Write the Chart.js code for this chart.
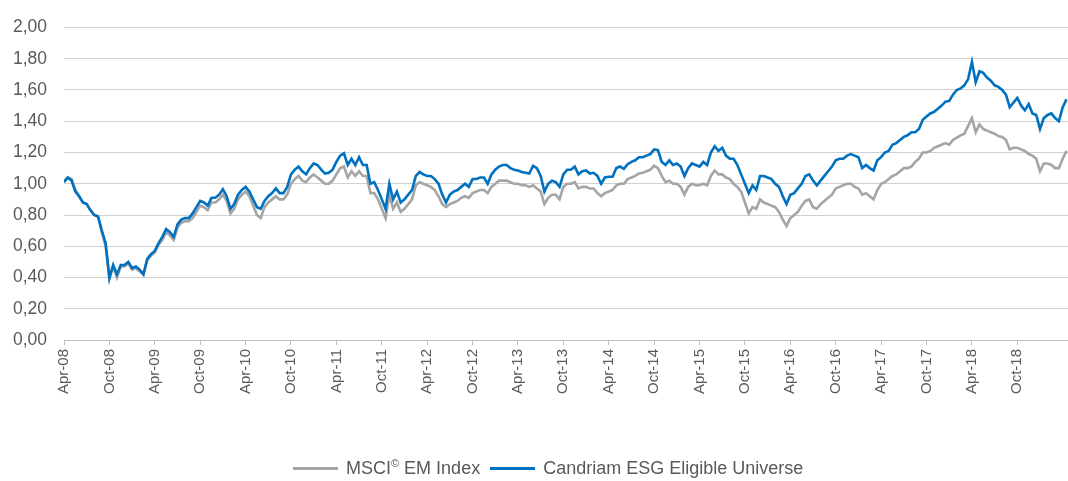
<!DOCTYPE html>
<html>
<head>
<meta charset="utf-8">
<script src="https://cdn.jsdelivr.net/npm/chart.js@4/dist/chart.umd.min.js"></script>
<style>
  html, body { margin: 0; padding: 0; background: #fff; }
  #wrap { position: relative; width: 1068px; height: 481px; }
  #legend {
    position: absolute; left: 293px; top: 457px;
    display: flex; align-items: center;
    font-family: "Liberation Sans", Arial, sans-serif; font-size: 18px; color: #595959;
  }
  .item { display: flex; align-items: center; margin-right: 10px; }
  .swatch { width: 45px; height: 3px; margin-right: 8px; }
  sup { font-size: 11px; }
</style>
</head>
<body>
<div id="wrap">
  <canvas id="perfChart" width="1068" height="481"></canvas>
  <div id="legend">
    <div class="item"><span class="swatch" style="background:#a5a5a5"></span><span>MSCI<sup>©</sup> EM Index</span></div>
    <div class="item"><span class="swatch" style="background:#0070c0"></span><span>Candriam ESG Eligible Universe</span></div>
  </div>
</div>
<script>
// x axis: months since Apr-08, one point every half month
const monthStep = 0.5;
const xTickLabels = ['Apr-08', 'Oct-08', 'Apr-09', 'Oct-09', 'Apr-10', 'Oct-10', 'Apr-11', 'Oct-11',
    'Apr-12', 'Oct-12', 'Apr-13', 'Oct-13', 'Apr-14', 'Oct-14', 'Apr-15', 'Oct-15',
    'Apr-16', 'Oct-16', 'Apr-17', 'Oct-17', 'Apr-18', 'Oct-18'];
const yTickLabels = ['0,00', '0,20', '0,40', '0,60', '0,80', '1,00', '1,20', '1,40', '1,60', '1,80', '2,00'];

const msciEM = [
    1.02, 1.04, 1.03, 0.96, 0.92, 0.88, 0.87, 0.83, 0.80, 0.79,
    0.69, 0.60, 0.39, 0.47, 0.40, 0.47, 0.47, 0.49, 0.45, 0.46,
    0.44, 0.42, 0.51, 0.54, 0.56, 0.61, 0.64, 0.69, 0.67, 0.64,
    0.72, 0.75, 0.76, 0.76, 0.78, 0.82, 0.86, 0.85, 0.83, 0.88,
    0.88, 0.90, 0.93, 0.89, 0.81, 0.84, 0.90, 0.93, 0.95, 0.92,
    0.86, 0.80, 0.78, 0.85, 0.88, 0.90, 0.92, 0.90, 0.90, 0.93,
    1.00, 1.03, 1.05, 1.02, 1.01, 1.04, 1.06, 1.04, 1.02, 1.00,
    1.00, 1.02, 1.06, 1.10, 1.11, 1.04, 1.08, 1.05, 1.08, 1.05,
    1.05, 0.94, 0.94, 0.90, 0.84, 0.78, 0.93, 0.84, 0.88, 0.82,
    0.84, 0.87, 0.90, 0.99, 1.01, 1.00, 0.99, 0.98, 0.96, 0.92,
    0.87, 0.85, 0.87, 0.88, 0.89, 0.91, 0.92, 0.91, 0.94, 0.95,
    0.96, 0.96, 0.94, 0.98, 1.00, 1.02, 1.02, 1.02, 1.01, 1.00,
    1.00, 0.99, 0.99, 0.98, 0.99, 0.97, 0.95, 0.87, 0.91, 0.93,
    0.93, 0.90, 0.98, 1.00, 1.00, 1.01, 0.97, 0.98, 0.98, 0.97,
    0.97, 0.94, 0.92, 0.94, 0.95, 0.96, 0.99, 1.00, 1.00, 1.03,
    1.04, 1.05, 1.065, 1.07, 1.08, 1.09, 1.115, 1.10, 1.05, 1.01,
    1.02, 1.00, 1.00, 0.98, 0.93, 0.98, 1.00, 0.99, 0.99, 1.00,
    0.99, 1.05, 1.085, 1.06, 1.06, 1.04, 1.03, 1.00, 0.98, 0.95,
    0.88, 0.81, 0.85, 0.84, 0.90, 0.88, 0.87, 0.86, 0.85, 0.82,
    0.77, 0.73, 0.78, 0.80, 0.82, 0.86, 0.89, 0.90, 0.85, 0.84,
    0.87, 0.89, 0.91, 0.93, 0.97, 0.98, 0.99, 1.00, 1.00, 0.98,
    0.97, 0.93, 0.94, 0.92, 0.90, 0.96, 1.00, 1.01, 1.03, 1.05,
    1.06, 1.08, 1.10, 1.10, 1.11, 1.14, 1.16, 1.20, 1.20, 1.21,
    1.23, 1.24, 1.25, 1.26, 1.25, 1.28, 1.295, 1.31, 1.32, 1.37,
    1.42, 1.33, 1.38, 1.35, 1.34, 1.33, 1.32, 1.305, 1.30, 1.28,
    1.22, 1.23, 1.23, 1.22, 1.21, 1.19, 1.18, 1.16, 1.08, 1.13,
    1.13, 1.12, 1.10, 1.10, 1.16, 1.21
];

const candriamESG = [
    1.01, 1.04, 1.02, 0.95, 0.92, 0.88, 0.87, 0.83, 0.80, 0.79,
    0.70, 0.62, 0.40, 0.48, 0.42, 0.48, 0.48, 0.50, 0.46, 0.47,
    0.45, 0.42, 0.52, 0.55, 0.57, 0.62, 0.66, 0.71, 0.69, 0.66,
    0.74, 0.77, 0.78, 0.78, 0.81, 0.85, 0.89, 0.88, 0.86, 0.91,
    0.91, 0.93, 0.965, 0.92, 0.84, 0.87, 0.93, 0.96, 0.98, 0.95,
    0.90, 0.85, 0.84, 0.89, 0.92, 0.94, 0.97, 0.94, 0.94, 0.98,
    1.06, 1.09, 1.11, 1.08, 1.06, 1.10, 1.13, 1.12, 1.09, 1.065,
    1.07, 1.09, 1.14, 1.18, 1.195, 1.12, 1.16, 1.12, 1.17, 1.12,
    1.12, 1.00, 1.01, 0.96, 0.90, 0.84, 1.00, 0.90, 0.95, 0.88,
    0.90, 0.93, 0.96, 1.05, 1.075, 1.06, 1.05, 1.05, 1.03, 1.00,
    0.93, 0.88, 0.93, 0.95, 0.96, 0.98, 1.00, 0.98, 1.03, 1.03,
    1.04, 1.04, 1.00, 1.06, 1.09, 1.11, 1.12, 1.12, 1.10, 1.09,
    1.085, 1.075, 1.07, 1.065, 1.115, 1.10, 1.05, 0.95, 1.00, 1.02,
    1.01, 0.98, 1.06, 1.09, 1.09, 1.11, 1.06, 1.08, 1.085, 1.065,
    1.07, 1.05, 1.00, 1.04, 1.045, 1.045, 1.10, 1.11, 1.095, 1.125,
    1.14, 1.15, 1.17, 1.17, 1.18, 1.19, 1.22, 1.215, 1.14, 1.12,
    1.15, 1.12, 1.13, 1.11, 1.05, 1.10, 1.13, 1.12, 1.11, 1.14,
    1.12, 1.20, 1.24, 1.21, 1.23, 1.18, 1.16, 1.16, 1.12, 1.06,
    1.00, 0.94, 0.99, 0.96, 1.05, 1.05, 1.04, 1.03, 1.00, 0.98,
    0.92, 0.87, 0.93, 0.94, 0.97, 1.00, 1.05, 1.06, 1.02, 0.99,
    1.02, 1.05, 1.08, 1.11, 1.15, 1.16, 1.16, 1.18, 1.19, 1.18,
    1.17, 1.10, 1.12, 1.10, 1.085, 1.15, 1.17, 1.20, 1.21, 1.25,
    1.26, 1.28, 1.30, 1.31, 1.33, 1.33, 1.35, 1.41, 1.43, 1.45,
    1.46, 1.48, 1.50, 1.525, 1.53, 1.57, 1.60, 1.61, 1.63, 1.67,
    1.78, 1.65, 1.72, 1.71, 1.68, 1.66, 1.63, 1.62, 1.60, 1.57,
    1.49, 1.52, 1.55, 1.50, 1.47, 1.51, 1.45, 1.44, 1.35, 1.42,
    1.44, 1.45, 1.42, 1.40, 1.49, 1.54
];

function toPoints(values) {
    return values.map((v, i) => ({ x: i * monthStep, y: v }));
}

const textColor = '#595959';
const fontFamily = '"Liberation Sans", Arial, sans-serif';

const ctx = document.getElementById('perfChart');
const chart = new Chart(ctx, {
    type: 'line',
    data: {
        datasets: [
            {
                label: 'MSCI\u00A9 EM Index',
                data: toPoints(msciEM),
                borderColor: '#a5a5a5',
                borderWidth: 2.6,
                pointRadius: 0,
                tension: 0,
                order: 1
            },
            {
                label: 'Candriam ESG Eligible Universe',
                data: toPoints(candriamESG),
                borderColor: '#0070c0',
                borderWidth: 2.6,
                pointRadius: 0,
                tension: 0,
                order: 0
            }
        ]
    },
    options: {
        responsive: false,
        animation: false,
        layout: { padding: { top: 22, right: 0, left: 0, bottom: 0 } },
        plugins: {
            legend: { display: false },
            tooltip: { enabled: false }
        },
        scales: {
            x: {
                type: 'linear',
                min: 0,
                max: 132.7,
                afterBuildTicks: scale => {
                    scale.ticks = xTickLabels.map((_, i) => ({ value: i * 6 }));
                },
                afterFit: scale => { scale.height = 141; },
                grid: {
                    drawOnChartArea: false,
                    drawTicks: true,
                    tickLength: 5,
                    color: '#bfbfbf'
                },
                border: { display: true, color: '#bfbfbf' },
                ticks: {
                    autoSkip: false,
                    minRotation: 90,
                    maxRotation: 90,
                    padding: 4,
                    color: textColor,
                    font: { family: fontFamily, size: 15 },
                    callback: (value) => xTickLabels[Math.round(value / 6)]
                }
            },
            y: {
                min: 0,
                max: 2,
                afterFit: scale => { scale.width = 64; },
                grid: {
                    color: '#d0d0d0',
                    lineWidth: 1,
                    drawTicks: false
                },
                border: { display: false },
                ticks: {
                    stepSize: 0.2,
                    padding: 17,
                    color: textColor,
                    font: { family: fontFamily, size: 17.5 },
                    callback: (value) => yTickLabels[Math.round(value / 0.2)]
                }
            }
        }
    }
});
</script>
</body>
</html>
